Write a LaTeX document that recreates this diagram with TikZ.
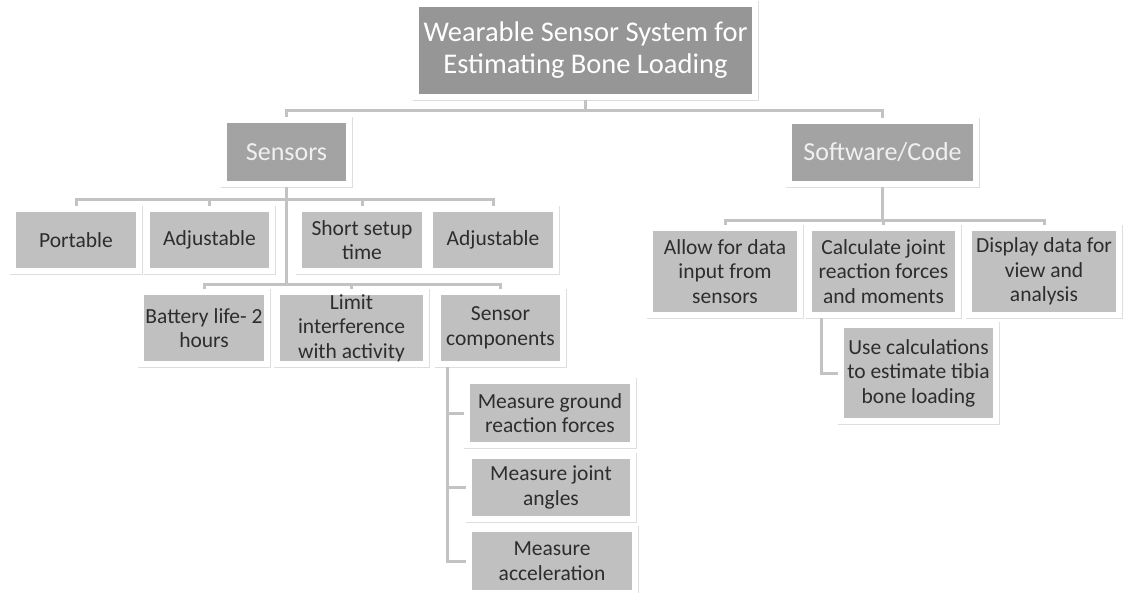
\documentclass[tikz,border=0pt]{standalone}
\usepackage{fontspec}
\setmainfont{Carlito}
\definecolor{topgray}{RGB}{150,150,150}
\definecolor{midgray}{RGB}{163,163,163}
\definecolor{leafgray}{RGB}{192,192,192}
\definecolor{textgray}{RGB}{45,45,45}
\definecolor{linkgray}{RGB}{195,195,195}
\begin{document}
\begin{tikzpicture}[x=1pt,y=-1pt,
	box/.style={rectangle,inner sep=0pt,align=center,draw=white,line width=6pt,
		preaction={draw=black!13,line width=7pt}},
	topbox/.style={box,fill=topgray,text=white,font=\fontsize{28.5}{32}\selectfont},
	midbox/.style={box,fill=midgray,text=white!94!black,font=\fontsize{26}{30}\selectfont},
	leafbox/.style={box,fill=leafgray,text=textgray,font=\fontsize{21.5}{24.5}\selectfont},
	link/.style={draw=linkgray,line width=3pt}]
		\useasboundingbox (0,0) rectangle (1125,592);
		% top and second level
		\node[topbox,minimum width=339,minimum height=93] (title) at (585.5,50.5) {Wearable Sensor System for\\Estimating Bone Loading};
		\node[midbox,minimum width=125,minimum height=64] (sensors) at (286.5,152) {Sensors};
		\node[midbox,minimum width=187,minimum height=63] (software) at (882.5,152.5) {Software/Code};
		% sensor requirements
		\node[leafbox,minimum width=126,minimum height=62] (portable) at (76,240) {Portable};
		\node[leafbox,minimum width=125,minimum height=62] (adjustA) at (209.5,240) {Adjustable};
		\node[leafbox,minimum width=126,minimum height=62] (setup) at (362,240) {Short setup\\time};
		\node[leafbox,minimum width=126,minimum height=62] (adjustB) at (493,240) {Adjustable};
		\node[leafbox,minimum width=126,minimum height=72] (battery) at (204,328) {Battery life- 2\\hours};
		\node[leafbox,minimum width=149,minimum height=72] (limit) at (351.5,328) {Limit\\interference\\with activity};
		\node[leafbox,minimum width=125,minimum height=72] (components) at (500.5,328) {Sensor\\components};
		\node[leafbox,minimum width=166,minimum height=64] (ground) at (550,413) {Measure ground\\reaction forces};
		\node[leafbox,minimum width=164,minimum height=63] (angles) at (551,487.5) {Measure joint\\angles};
		\node[leafbox,minimum width=166,minimum height=64] (accel) at (552,561) {Measure\\acceleration};
		% software requirements
		\node[leafbox,minimum width=150,minimum height=87] (allow) at (725,271.5) {Allow for data\\input from\\sensors};
		\node[leafbox,minimum width=149,minimum height=87] (calc) at (883.5,271.5) {Calculate joint\\reaction forces\\and moments};
		\node[leafbox,minimum width=150,minimum height=87] (display) at (1044,271.5) {Display data for\\view and\\analysis};
		\node[leafbox,minimum width=155,minimum height=96] (usecalc) at (918.5,373) {Use calculations\\to estimate tibia\\bone loading};
		% connectors
		\draw[link] (title.south) -- ++(0,10) -| (sensors.north);
		\draw[link] (title.south) -- ++(0,10) -| (software.north);
		\foreach \n in {portable,adjustA,setup,adjustB}
			\draw[link] (sensors.south) -- ++(0,12) -| (\n.north);
		\foreach \n in {battery,limit,components}
			\draw[link] (sensors.south) -- ++(0,97) -| (\n.north);
		\foreach \n in {ground,angles,accel}
			\draw[link] ([xshift=12pt]components.south west) |- (\n.west);
		\foreach \n in {allow,calc,display}
			\draw[link] (software.south) -- ++(0,33) -| (\n.north);
		\draw[link] ([xshift=15pt]calc.south west) |- (usecalc.west);
	\end{tikzpicture}
\end{document}
